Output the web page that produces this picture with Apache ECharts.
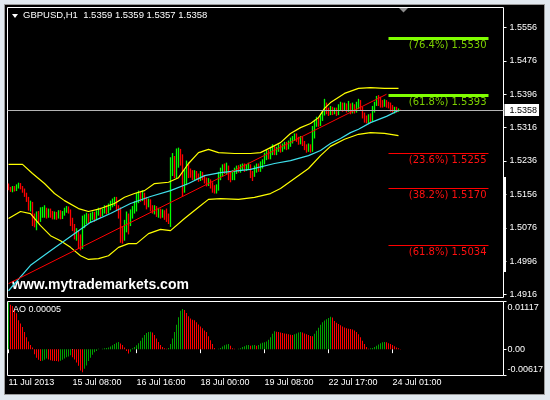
<!DOCTYPE html>
<html><head><meta charset="utf-8">
<script src="https://cdn.jsdelivr.net/npm/echarts@6/dist/echarts.min.js"></script>
<style>
html,body{margin:0;padding:0;background:#e1e8ef;}
#frame{position:absolute;left:4px;top:4px;width:539px;height:389px;background:#000;border:1px solid #9a9a9a;}
#c{position:absolute;left:0;top:0;width:550px;height:400px;}
</style></head><body>
<div id="frame"></div><div id="c"></div>
<script>
// ---- data ----
const candles = [
[1.5178,1.5170,1.5166,1.5182],[1.5170,1.5165,1.5162,1.5174],[1.5165,1.5172,1.5161,1.5176],[1.5172,1.5166,1.5163,1.5176],[1.5166,1.5175,1.5164,1.5180],
[1.5175,1.5180,1.5170,1.5184],[1.5180,1.5172,1.5168,1.5183],[1.5172,1.5164,1.5160,1.5176],[1.5166,1.5155,1.5150,1.5170],[1.5155,1.5140,1.5138,1.5160],
[1.5145,1.5125,1.5117,1.5150],[1.5122,1.5138,1.5115,1.5141],[1.5135,1.5095,1.5080,1.5138],[1.5100,1.5085,1.5077,1.5110],[1.5085,1.5110,1.5070,1.5115],
[1.5110,1.5095,1.5088,1.5116],[1.5095,1.5118,1.5090,1.5125],[1.5110,1.5122,1.5100,1.5126],[1.5105,1.5125,1.5100,1.5130],[1.5120,1.5105,1.5098,1.5124],
[1.5105,1.5118,1.5100,1.5122],[1.5118,1.5108,1.5100,1.5122],[1.5112,1.5100,1.5096,1.5116],[1.5100,1.5110,1.5096,1.5115],[1.5110,1.5102,1.5095,1.5114],
[1.5102,1.5112,1.5098,1.5118],[1.5112,1.5100,1.5096,1.5118],[1.5100,1.5112,1.5097,1.5116],[1.5110,1.5120,1.5105,1.5124],[1.5118,1.5124,1.5112,1.5128],
[1.5124,1.5116,1.5110,1.5127],[1.5116,1.5090,1.5080,1.5120],[1.5095,1.5075,1.5068,1.5100],[1.5080,1.5055,1.5048,1.5085],[1.5055,1.5070,1.5045,1.5075],
[1.5065,1.5035,1.5025,1.5070],[1.5040,1.5030,1.5022,1.5060],[1.5030,1.5090,1.5025,1.5105],[1.5085,1.5100,1.5075,1.5108],[1.5095,1.5105,1.5085,1.5112],
[1.5105,1.5092,1.5086,1.5110],[1.5092,1.5104,1.5088,1.5112],[1.5100,1.5110,1.5095,1.5115],[1.5110,1.5098,1.5090,1.5114],[1.5098,1.5112,1.5094,1.5118],
[1.5110,1.5120,1.5105,1.5124],[1.5120,1.5108,1.5100,1.5124],[1.5108,1.5118,1.5104,1.5122],[1.5116,1.5126,1.5110,1.5130],[1.5126,1.5115,1.5108,1.5130],
[1.5115,1.5128,1.5110,1.5134],[1.5125,1.5135,1.5118,1.5141],[1.5132,1.5140,1.5125,1.5146],[1.5135,1.5145,1.5128,1.5150],[1.5145,1.5125,1.5118,1.5150],
[1.5125,1.5105,1.5098,1.5130],[1.5110,1.5060,1.5040,1.5125],[1.5070,1.5050,1.5038,1.5080],[1.5050,1.5085,1.5045,1.5095],[1.5080,1.5105,1.5065,1.5115],
[1.5105,1.5085,1.5060,1.5110],[1.5085,1.5110,1.5080,1.5120],[1.5105,1.5120,1.5098,1.5128],[1.5118,1.5135,1.5110,1.5140],[1.5130,1.5150,1.5115,1.5160],
[1.5145,1.5160,1.5135,1.5165],[1.5160,1.5145,1.5138,1.5164],[1.5145,1.5158,1.5140,1.5166],[1.5158,1.5140,1.5130,1.5160],[1.5145,1.5130,1.5120,1.5150],
[1.5130,1.5140,1.5125,1.5146],[1.5140,1.5122,1.5115,1.5144],[1.5122,1.5115,1.5110,1.5130],[1.5115,1.5125,1.5108,1.5130],[1.5125,1.5110,1.5102,1.5128],
[1.5110,1.5118,1.5100,1.5124],[1.5118,1.5104,1.5098,1.5122],[1.5104,1.5115,1.5100,1.5120],[1.5115,1.5100,1.5095,1.5118],[1.5105,1.5098,1.5090,1.5122],
[1.5100,1.5092,1.5085,1.5110],[1.5092,1.5225,1.5078,1.5245],[1.5220,1.5240,1.5200,1.5255],[1.5240,1.5210,1.5195,1.5248],[1.5210,1.5255,1.5195,1.5266],
[1.5250,1.5262,1.5220,1.5268],[1.5262,1.5235,1.5225,1.5265],[1.5240,1.5170,1.5150,1.5252],[1.5170,1.5200,1.5160,1.5215],[1.5200,1.5225,1.5178,1.5237],
[1.5225,1.5205,1.5195,1.5232],[1.5210,1.5200,1.5196,1.5218],[1.5205,1.5195,1.5190,1.5214],[1.5195,1.5208,1.5190,1.5214],[1.5208,1.5198,1.5192,1.5212],
[1.5200,1.5190,1.5186,1.5206],[1.5192,1.5205,1.5188,1.5212],[1.5205,1.5196,1.5190,1.5210],[1.5198,1.5188,1.5182,1.5202],[1.5190,1.5180,1.5175,1.5196],
[1.5180,1.5190,1.5176,1.5195],[1.5188,1.5176,1.5170,1.5192],[1.5180,1.5168,1.5160,1.5185],[1.5170,1.5162,1.5158,1.5178],[1.5162,1.5175,1.5158,1.5180],
[1.5172,1.5200,1.5165,1.5210],[1.5198,1.5212,1.5190,1.5220],[1.5208,1.5222,1.5200,1.5228],[1.5222,1.5210,1.5205,1.5230],[1.5210,1.5225,1.5205,1.5232],
[1.5222,1.5200,1.5190,1.5225],[1.5205,1.5195,1.5185,1.5210],[1.5195,1.5208,1.5190,1.5214],[1.5200,1.5215,1.5190,1.5220],[1.5212,1.5220,1.5205,1.5225],
[1.5220,1.5212,1.5208,1.5226],[1.5212,1.5222,1.5208,1.5228],[1.5220,1.5226,1.5214,1.5230],[1.5226,1.5216,1.5210,1.5230],[1.5216,1.5224,1.5212,1.5228],
[1.5222,1.5228,1.5216,1.5232],[1.5225,1.5205,1.5195,1.5228],[1.5208,1.5200,1.5188,1.5212],[1.5200,1.5218,1.5198,1.5225],[1.5215,1.5225,1.5208,1.5230],
[1.5225,1.5215,1.5210,1.5230],[1.5215,1.5228,1.5210,1.5235],[1.5225,1.5235,1.5218,1.5240],[1.5232,1.5248,1.5228,1.5256],[1.5245,1.5255,1.5238,1.5262],
[1.5255,1.5245,1.5240,1.5262],[1.5245,1.5262,1.5240,1.5270],[1.5258,1.5268,1.5250,1.5276],[1.5268,1.5256,1.5250,1.5272],[1.5256,1.5266,1.5250,1.5270],
[1.5264,1.5272,1.5258,1.5276],[1.5272,1.5262,1.5256,1.5276],[1.5262,1.5272,1.5258,1.5278],[1.5270,1.5278,1.5264,1.5282],[1.5278,1.5268,1.5262,1.5282],
[1.5268,1.5280,1.5264,1.5285],[1.5278,1.5288,1.5270,1.5292],[1.5285,1.5292,1.5278,1.5296],[1.5290,1.5298,1.5284,1.5302],[1.5298,1.5288,1.5282,1.5302],
[1.5290,1.5280,1.5275,1.5294],[1.5280,1.5290,1.5276,1.5296],[1.5290,1.5278,1.5272,1.5294],[1.5280,1.5270,1.5262,1.5284],[1.5272,1.5262,1.5256,1.5276],
[1.5262,1.5272,1.5258,1.5278],[1.5272,1.5262,1.5256,1.5276],[1.5262,1.5300,1.5258,1.5320],[1.5298,1.5325,1.5290,1.5335],[1.5322,1.5335,1.5318,1.5342],
[1.5335,1.5325,1.5318,1.5340],[1.5325,1.5340,1.5320,1.5345],[1.5338,1.5352,1.5332,1.5358],[1.5350,1.5375,1.5345,1.5385],[1.5372,1.5355,1.5348,1.5376],
[1.5358,1.5350,1.5344,1.5364],[1.5350,1.5362,1.5346,1.5368],[1.5362,1.5352,1.5346,1.5366],[1.5352,1.5360,1.5348,1.5364],[1.5360,1.5350,1.5344,1.5364],
[1.5350,1.5366,1.5346,1.5372],[1.5362,1.5372,1.5356,1.5378],[1.5372,1.5360,1.5354,1.5376],[1.5360,1.5370,1.5356,1.5376],[1.5370,1.5358,1.5352,1.5374],
[1.5358,1.5368,1.5354,1.5380],[1.5368,1.5355,1.5348,1.5374],[1.5355,1.5368,1.5350,1.5376],[1.5368,1.5356,1.5350,1.5372],[1.5356,1.5370,1.5352,1.5378],
[1.5368,1.5378,1.5360,1.5385],[1.5378,1.5362,1.5356,1.5382],[1.5362,1.5345,1.5338,1.5366],[1.5348,1.5335,1.5328,1.5352],[1.5338,1.5330,1.5326,1.5345],
[1.5330,1.5342,1.5326,1.5348],[1.5342,1.5332,1.5328,1.5350],[1.5332,1.5362,1.5330,1.5368],[1.5360,1.5372,1.5352,1.5378],[1.5372,1.5385,1.5368,1.5392],
[1.5388,1.5374,1.5368,1.5394],[1.5380,1.5370,1.5364,1.5390],[1.5378,1.5370,1.5364,1.5382],[1.5370,1.5378,1.5366,1.5384],[1.5378,1.5370,1.5364,1.5382],
[1.5372,1.5366,1.5362,1.5378],[1.5370,1.5360,1.5354,1.5376],[1.5365,1.5356,1.5352,1.5370],[1.5356,1.5362,1.5350,1.5366],[1.5362,1.5356,1.5352,1.5366],
[1.5356,1.5360,1.5354,1.5362],[1.5359,1.5358,1.5357,1.5359]
];
const aoValues = [
0.0110,0.0104,0.0101,0.0093,0.0084,0.0068,0.0060,0.0052,0.0040,0.0028,0.0018,0.0010,0.0004,
-0.0012,-0.0020,-0.0025,-0.0028,
-0.0027,-0.0025,-0.0022,
-0.0024,-0.0026,-0.0027,-0.00275,-0.0028,-0.0029,
-0.0027,-0.0025,-0.0022,-0.0019,-0.0017,-0.0014,
-0.0019,-0.0024,-0.0031,-0.0039,-0.0050,-0.0054,
-0.0046,-0.0038,-0.0028,-0.0020,-0.0013,-0.0007,-0.0004,
0.0001,0.0000,0.0001,0.0002,0.00025,0.0004,0.0006,0.0009,0.0012,0.0015,0.0017,
0.0013,0.0010,0.0004,-0.0004,-0.0010,
-0.0006,0.0002,0.0005,0.0009,0.0014,0.0020,0.0027,0.0033,0.0038,0.0040,0.0041,
0.0039,0.0033,0.0025,0.0017,0.0010,0.0005,0.0002,0.0001,
0.0003,0.0012,0.0025,0.0040,0.0057,0.0075,0.0090,0.0094,
0.0092,0.0085,0.0077,0.0072,0.0069,0.0068,0.0063,0.0058,0.0053,0.0049,0.0044,0.0040,0.0030,0.0021,0.0012,0.0003,
0.0000,0.0001,
0.0003,0.0006,0.0009,0.0011,0.0012,
0.0008,0.0002,
0.0001,0.0000,0.0001,
0.0002,0.0005,0.0007,0.0009,0.0010,
0.0008,
0.0009,0.0010,
0.0008,
0.0010,0.0013,0.0015,0.0016,0.0018,0.0022,0.0028,0.0036,0.0042,
0.0041,0.0040,0.0039,0.0038,0.0037,0.0036,0.0035,0.0034,0.0033,
0.0035,0.0037,0.0039,0.0040,
0.0039,0.0037,0.0035,0.0033,0.0031,0.0030,
0.0036,0.0043,0.0050,0.0057,0.0063,0.0067,0.0070,0.0073,0.0076,
0.0074,
0.0066,0.0062,0.0059,0.0056,0.0053,0.0051,0.0049,0.0048,0.0047,0.0046,0.0044,0.0040,0.0035,0.0028,0.0020,0.0012,0.0005,0.0001,
0.0002,0.0003,0.0005,0.0008,0.0011,0.0014,0.0016,0.0017,
0.0016,0.0014,0.0012,0.0010,0.0007,0.0004,0.0002,0.00005
];
const upperBand = [[0,1.5228],[7,1.5228],[12,1.5206],[18,1.5182],[23,1.5158],[28,1.5141],[35,1.5122],[40,1.5115],[46,1.5122],[53,1.5134],[58,1.5149],[63,1.5158],[68,1.5165],[73,1.5182],[80,1.5185],[85,1.5196],[90,1.5230],[95,1.5256],[100,1.5264],[105,1.5256],[113,1.5254],[121,1.5254],[126,1.5256],[131,1.5268],[136,1.5280],[141,1.5302],[146,1.5316],[151,1.5326],[155,1.5340],[158,1.5362],[161,1.5376],[168,1.5398],[175,1.5410],[181,1.5412],[188,1.5410],[195,1.5410]];
const lowerBand = [[0,1.5098],[6,1.5115],[11,1.5110],[16,1.5081],[21,1.5057],[26,1.5045],[31,1.5029],[36,1.5009],[40,1.5000],[45,1.5002],[50,1.5009],[55,1.5029],[60,1.5038],[64,1.5038],[70,1.5062],[76,1.5072],[81,1.5069],[88,1.5098],[95,1.5125],[100,1.5144],[106,1.5146],[115,1.5144],[123,1.5149],[131,1.5158],[136,1.5170],[143,1.5194],[150,1.5218],[156,1.5249],[161,1.5271],[168,1.5288],[175,1.5300],[181,1.5304],[188,1.5302],[195,1.5297]];
const maLine = [[0,1.4925],[11,1.4986],[21,1.5021],[31,1.5055],[41,1.5089],[51,1.5110],[61,1.5134],[71,1.5151],[81,1.5165],[90,1.5182],[98,1.5201],[106,1.5208],[121,1.5216],[133,1.5230],[141,1.5237],[150,1.5249],[156,1.5261],[161,1.5278],[166,1.5290],[171,1.5304],[175,1.5312],[181,1.5328],[189,1.5343],[195,1.5357]];
const trendLine = [[0,1.4942],[189,1.5396]];
const fibValues = [1.5530, 1.5393, 1.5255, 1.5170, 1.5034];
const fibLabels = ['(76.4%) 1.5530','(61.8%) 1.5393','(23.6%) 1.5255','(38.2%) 1.5170','(61.8%) 1.5034'];
const fibFrom = 190, fibTo = 240;
const lastPrice = 1.5358;
const priceTicks = [1.4916,1.4996,1.5076,1.5156,1.5236,1.5316,1.5396,1.5476,1.5556];
const aoTicks = [-0.00617, 0, 0.01117];
const aoTickLabels = ['-0.00617','0.00','0.01117'];
const dateTickIdx = [0,32,64,96,128,160,192];
const dateTickLabels = ['11 Jul 2013','15 Jul 08:00','16 Jul 16:00','18 Jul 00:00','19 Jul 08:00','22 Jul 17:00','24 Jul 01:00'];
const titleText = 'GBPUSD,H1  1.5359 1.5359 1.5357 1.5358';
const aoText = 'AO 0.00005';
const watermark = 'www.mytrademarkets.com';

// ---- chart ----
const SLOTS = 248;
const cats = [];
for (let i = 0; i < SLOTS; i++) cats.push(String(i));
const labelOf = {};
dateTickIdx.forEach((ix, k) => { labelOf[ix] = dateTickLabels[k]; });
const isTick = (i) => labelOf[i] !== undefined;

const FONT = "'Liberation Sans', Arial, sans-serif";
const FIBFONT = "'DejaVu Sans', Tahoma, sans-serif";
const fibColors = ['#7ccf00','#7ccf00','#ff1010','#ff1010','#ff1010'];
const fibLineColors = ['#80ff00','#80ff00','#ff0000','#ff0000','#ff0000'];
const fibWidths = [3,3,1,1,1];

const fibMarks = fibValues.map((v, k) => [
  { coord: [fibFrom, v], lineStyle: { color: fibLineColors[k], width: fibWidths[k], type: 'solid' },
    label: { show: true, position: 'insideEndBottom', formatter: fibLabels[k], color: fibColors[k], fontSize: 10, fontFamily: FIBFONT, distance: 2 } },
  { coord: [fibTo, v] }
]);
const priceMark = [[
  { coord: [0, lastPrice], x: 7.5, lineStyle: { color: '#b4b4b4', type: 'solid', width: 1 },
    label: { show: true, position: 'end', formatter: lastPrice.toFixed(4), backgroundColor: '#fff', color: '#000',
             padding: [2, 2, 1, 5], distance: 1, fontSize: 9, fontFamily: FONT } },
  { coord: [SLOTS - 1, lastPrice], x: 503.5 }
]];

const aoData = aoValues.map((v, i) => ({
  value: v,
  itemStyle: { color: (i === 0 || v >= aoValues[i - 1]) ? '#00a000' : '#ff0000' }
}));

const chart = echarts.init(document.getElementById('c'), null, { renderer: 'canvas' });
chart.setOption({
  animation: false,
  backgroundColor: 'transparent',
  title: [
    { text: titleText, left: 23, top: 10, padding: 0, textStyle: { color: '#fff', fontSize: 9.5, fontWeight: 'normal', fontFamily: FONT } },
    { text: aoText, left: 13, top: 305, padding: 0, textStyle: { color: '#fff', fontSize: 9, fontWeight: 'normal', fontFamily: FONT } }
  ],
  grid: [
    { left: 7.5, top: 7.5, width: 496, height: 290, show: true, borderColor: '#fff', borderWidth: 1, backgroundColor: 'transparent' },
    { left: 7.5, top: 301.5, width: 496, height: 74, show: true, borderColor: '#fff', borderWidth: 1, backgroundColor: 'transparent' }
  ],
  xAxis: [
    { type: 'category', gridIndex: 0, data: cats, boundaryGap: true, show: false },
    { type: 'category', gridIndex: 1, data: cats, boundaryGap: true,
      axisLine: { show: false },
      axisTick: { show: true, interval: isTick, alignWithLabel: true, length: 4, lineStyle: { color: '#fff' } },
      axisLabel: { show: true, interval: isTick, formatter: (v, i) => labelOf[i] || '', color: '#fff', fontSize: 9, fontFamily: FONT, align: 'left', margin: 3 },
      splitLine: { show: false } }
  ],
  yAxis: [
    { type: 'value', gridIndex: 0, position: 'right', min: 1.490881, max: 1.560394,
      splitLine: { show: false }, axisLine: { show: false },
      axisTick: { show: true, customValues: priceTicks, length: 3, lineStyle: { color: '#fff' } },
      axisLabel: { show: true, customValues: priceTicks, formatter: (v) => v.toFixed(4), color: '#fff', fontSize: 9, fontFamily: FONT, margin: 6 } },
    { type: 'value', gridIndex: 1, position: 'right', min: aoTicks[0], max: aoTicks[2],
      splitLine: { show: false }, axisLine: { show: false },
      axisTick: { show: true, customValues: aoTicks, length: 3, lineStyle: { color: '#fff' } },
      axisLabel: { show: true, customValues: aoTicks, color: '#fff', fontSize: 9, fontFamily: FONT, margin: 4,
        formatter: (v) => {
          const k = aoTicks.indexOf(v);
          const style = k === 2 ? 't' : (k === 0 ? 'b' : 'm');
          return '{' + style + '|' + aoTickLabels[k] + '}';
        },
        rich: {
          t: { color: '#fff', fontSize: 9, fontFamily: FONT, padding: [12, 0, 0, 0] },
          b: { color: '#fff', fontSize: 9, fontFamily: FONT, padding: [0, 0, 12, 0] },
          m: { color: '#fff', fontSize: 9, fontFamily: FONT }
        } } }
  ],
  series: [
    { type: 'candlestick', xAxisIndex: 0, yAxisIndex: 0, data: candles, barWidth: 0.01, silent: true, z: 2,
      itemStyle: { color: '#00ff00', color0: '#ff0000', borderColor: '#00ff00', borderColor0: '#ff0000', borderWidth: 1.3 },
      markLine: { symbol: 'none', silent: true, animation: false, data: fibMarks } },
    { type: 'line', xAxisIndex: 0, yAxisIndex: 0, data: upperBand, showSymbol: false, silent: true, z: 3,
      lineStyle: { color: '#ffff00', width: 1.2 },
      markLine: { symbol: 'none', silent: true, animation: false, data: priceMark } },
    { type: 'line', xAxisIndex: 0, yAxisIndex: 0, data: lowerBand, showSymbol: false, silent: true, z: 3,
      lineStyle: { color: '#ffff00', width: 1.2 } },
    { type: 'line', xAxisIndex: 0, yAxisIndex: 0, data: maLine, showSymbol: false, silent: true, z: 3,
      lineStyle: { color: '#3fe0ec', width: 1.2 } },
    { type: 'line', xAxisIndex: 0, yAxisIndex: 0, data: trendLine, showSymbol: false, silent: true, z: 4,
      lineStyle: { color: '#ff0000', width: 1 } },
    { type: 'bar', xAxisIndex: 1, yAxisIndex: 1, data: aoData, barWidth: 1, silent: true }
  ],
  graphic: [
    { type: 'polygon', shape: { points: [[12, 14], [18, 14], [15, 18]] }, style: { fill: '#fff' } },
    { type: 'polygon', shape: { points: [[399, 8], [408, 8], [403.5, 12.5]] }, style: { fill: '#8c8c8c' } },
    { type: 'rect', shape: { x: 503, y: 177, width: 3, height: 95 }, style: { fill: '#fff' } },
    { type: 'text', left: 12, top: 278, style: { text: watermark, fill: '#fff', font: "bold 14px 'Liberation Sans', Arial, sans-serif" } }
  ]
});
</script></body></html>
